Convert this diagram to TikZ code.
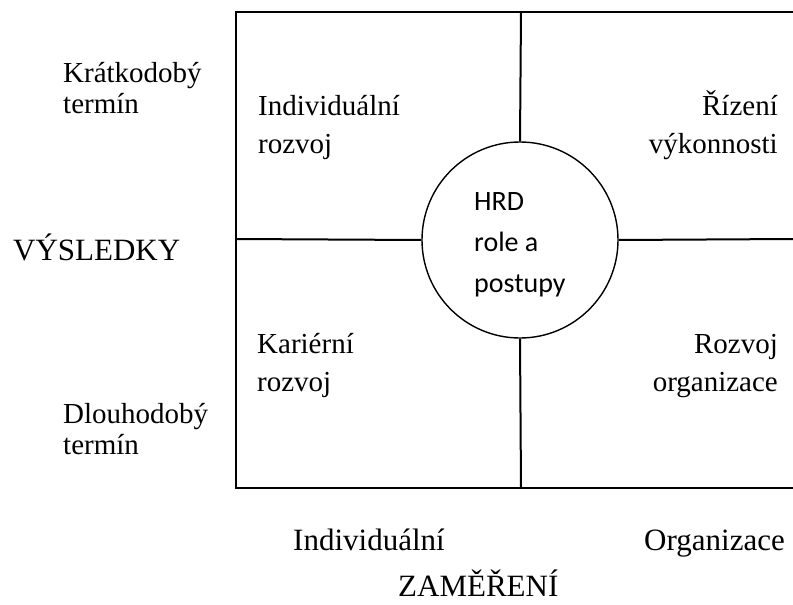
\documentclass[tikz,border=0pt]{standalone}
\usepackage{fontspec}
\setmainfont{Liberation Serif}
\newfontfamily\calibrifont{Carlito}
\begin{document}
\begin{tikzpicture}[x=1pt,y=-1pt,
  frame/.style={line width=2pt},
  hub/.style={circle, draw, line width=1.4pt, minimum size=196pt, inner sep=0pt},
  sidelbl/.style={inner sep=0pt, align=left, font=\fontsize{29}{31}\selectfont},
  quadlbl/.style={inner sep=0pt, font=\fontsize{29}{38}\selectfont},
  axislbl/.style={inner sep=0pt, font=\fontsize{31}{36}\selectfont},
  hubtext/.style={inner sep=0pt, align=left, font=\calibrifont\fontsize{28}{41}\selectfont}]
\useasboundingbox (0,0) rectangle (793,605);

% frame corners and divider ends
\coordinate (tl) at (236,12);
\coordinate (tr) at (793,12);
\coordinate (bl) at (236,488);
\coordinate (br) at (793,488);
\coordinate (midtop) at (521,12);
\coordinate (midbot) at (521,488);
\coordinate (midleft) at (236,239);
\coordinate (midright) at (793,239);

% outer frame (open on the right)
\draw[frame] (tr) -- (tl) -- (bl) -- (br);

% central circle and the dividers meeting it
\node[hub] (hub) at (520,240) {};
\draw[frame] (midtop) -- (hub.north);
\draw[frame] (hub.south) -- (midbot);
\draw[frame] (midleft) -- (hub.west);
\draw[frame] (hub.east) -- (midright);

% multi-line nodes are placed by the baseline of their last line
\node[hubtext, anchor=base west] (hubtxt) at (474,292) {HRD\\role a\\postupy};

% quadrant labels
\node[quadlbl, align=left, anchor=base west] (q1) at (258,153) {Individuální\\rozvoj};
\node[quadlbl, align=right, anchor=base east] (q2) at (778,153) {Řízení\\výkonnosti};
\node[quadlbl, align=left, anchor=base west] (q3) at (257,391) {Kariérní\\rozvoj};
\node[quadlbl, align=right, anchor=base east] (q4) at (778,391) {Rozvoj\\organizace};

% vertical axis
\node[sidelbl, anchor=base west] (short) at (63,113) {Krátkodobý\\termín};
\node[axislbl, anchor=base west] (vysl) at (13,260) {VÝSLEDKY};
\node[sidelbl, anchor=base west] (long) at (63,454) {Dlouhodobý\\termín};

% horizontal axis
\node[axislbl, anchor=base west] (indiv) at (293,550) {Individuální};
\node[axislbl, anchor=base east] (org) at (785,550) {Organizace};
\node[axislbl, anchor=base west] (zam) at (398,596) {ZAMĚŘENÍ};
\end{tikzpicture}
\end{document}
